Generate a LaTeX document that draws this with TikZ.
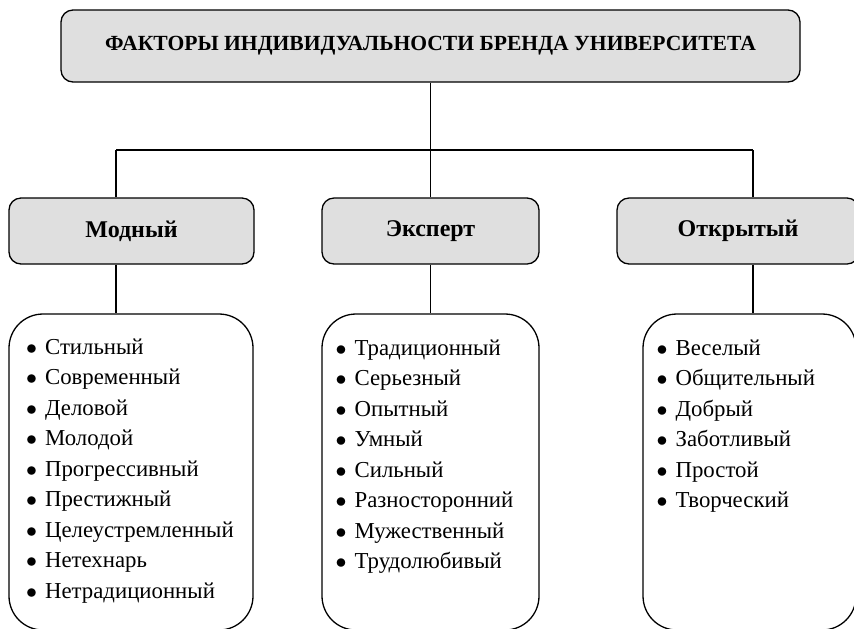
\documentclass[tikz,border=0pt]{standalone}
\usepackage{fontspec}
\setmainfont{Liberation Serif}
\newcommand{\itm}{\strut$\bullet$\hspace{4pt}}

\begin{document}
\begin{tikzpicture}[x=0.5pt,y=-0.5pt,line width=0.65pt,
    head/.style={draw,fill=gray!25,rounded corners=6pt,inner sep=0pt,minimum height=33pt,
      font=\bfseries\fontsize{12}{14}\selectfont},
    listbox/.style={draw,rounded corners=17pt,minimum height=158pt},
    items/.style={anchor=north west,inner sep=0pt,align=left,
      font=\fontsize{11.4}{15.25}\selectfont}]
  \useasboundingbox (0,0) rectangle (854,628);
  \clip (0,0) rectangle (854,628);
  \node[head,minimum width=369.5pt,minimum height=36pt,
    font=\bfseries\fontsize{10.8}{12}\selectfont] (title) at (430.5,46)
    {ФАКТОРЫ ИНДИВИДУАЛЬНОСТИ БРЕНДА УНИВЕРСИТЕТА};
  \node[head,minimum width=122.5pt] (modny) at (131.5,231) {Модный};
  \node[head,minimum width=108.5pt] (expert) at (430.5,231) {Эксперт};
  \node[head,minimum width=121pt] (otkryty) at (738,231) {Открытый};
  \node[listbox,minimum width=122pt] (listA) at (131,472) {};
  \node[listbox,minimum width=108.5pt] (listB) at (430.5,472) {};
  \node[listbox,minimum width=106.5pt] (listC) at (749.5,472) {};
  \node[items] (itemsA) at (25.5,332) {\itm Стильный\\ \itm Современный\\ \itm Деловой\\
    \itm Молодой\\ \itm Прогрессивный\\ \itm Престижный\\ \itm Целеустремленный\\
    \itm Нетехнарь\\ \itm Нетрадиционный};
  \node[items] (itemsB) at (335,333) {\itm Традиционный\\ \itm Серьезный\\ \itm Опытный\\
    \itm Умный\\ \itm Сильный\\ \itm Разносторонний\\ \itm Мужественный\\ \itm Трудолюбивый};
  \node[items] (itemsC) at (656,333) {\itm Веселый\\ \itm Общительный\\ \itm Добрый\\
    \itm Заботливый\\ \itm Простой\\ \itm Творческий};
  \coordinate (forkA) at (116,150);
  \coordinate (forkC) at (753,150);
  \draw (title) -- (expert);
  \draw (forkA) -- (forkC);
  \draw (forkA) -- (forkA |- modny.north);
  \draw (forkC) -- (forkC |- otkryty.north);
  \draw (forkA |- modny.south) -- (forkA |- listA.north);
  \draw (expert) -- (listB);
  \draw (forkC |- otkryty.south) -- (forkC |- listC.north);
\end{tikzpicture}
\end{document}
